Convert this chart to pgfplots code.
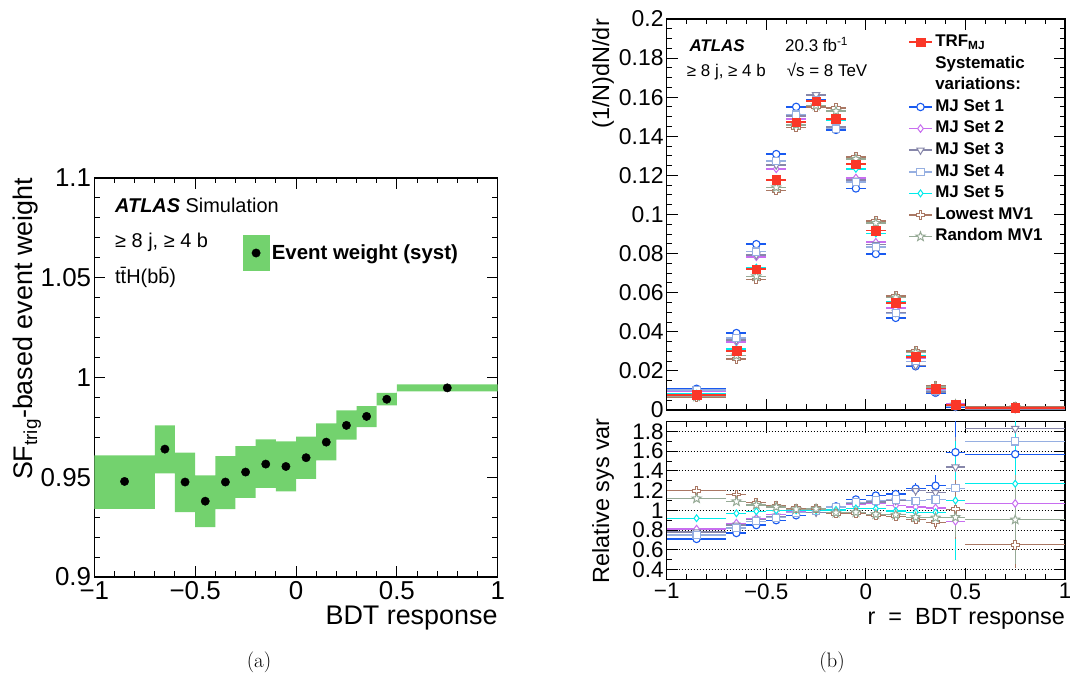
\documentclass[border=0pt]{standalone}
\usepackage{fontspec}
\usepackage{pgfplots}
\pgfplotsset{compat=1.18}
\usepackage{pgfplotstable}
\usepgfplotslibrary{fillbetween}
\newfontfamily\hv{Liberation Sans}
\newcommand\fs[1]{\fontsize{#1}{#1}\selectfont}

\definecolor{sfgreen}{RGB}{115,210,110}
\definecolor{trfred}{RGB}{250,55,40}
\definecolor{cset1}{RGB}{25,90,240}
\definecolor{cset2}{RGB}{200,110,240}
\definecolor{cset3}{RGB}{135,135,170}
\definecolor{cset4}{RGB}{150,175,225}
\definecolor{cset5}{RGB}{0,235,235}
\definecolor{clow}{RGB}{170,120,100}
\definecolor{crand}{RGB}{150,170,150}

\pgfdeclareplotmark{opencross}{%
  \pgfpathmoveto{\pgfpoint{-\pgfplotmarksize}{-0.33\pgfplotmarksize}}%
  \pgfpathlineto{\pgfpoint{-0.33\pgfplotmarksize}{-0.33\pgfplotmarksize}}%
  \pgfpathlineto{\pgfpoint{-0.33\pgfplotmarksize}{-\pgfplotmarksize}}%
  \pgfpathlineto{\pgfpoint{0.33\pgfplotmarksize}{-\pgfplotmarksize}}%
  \pgfpathlineto{\pgfpoint{0.33\pgfplotmarksize}{-0.33\pgfplotmarksize}}%
  \pgfpathlineto{\pgfpoint{\pgfplotmarksize}{-0.33\pgfplotmarksize}}%
  \pgfpathlineto{\pgfpoint{\pgfplotmarksize}{0.33\pgfplotmarksize}}%
  \pgfpathlineto{\pgfpoint{0.33\pgfplotmarksize}{0.33\pgfplotmarksize}}%
  \pgfpathlineto{\pgfpoint{0.33\pgfplotmarksize}{\pgfplotmarksize}}%
  \pgfpathlineto{\pgfpoint{-0.33\pgfplotmarksize}{\pgfplotmarksize}}%
  \pgfpathlineto{\pgfpoint{-0.33\pgfplotmarksize}{0.33\pgfplotmarksize}}%
  \pgfpathlineto{\pgfpoint{-\pgfplotmarksize}{0.33\pgfplotmarksize}}%
  \pgfpathclose
  \pgfusepathqfillstroke}
\pgfdeclareplotmark{openstar}{%
  \pgfpathmoveto{\pgfpointpolar{90}{\pgfplotmarksize}}%
  \pgfpathlineto{\pgfpointpolar{126}{0.42\pgfplotmarksize}}%
  \pgfpathlineto{\pgfpointpolar{162}{\pgfplotmarksize}}%
  \pgfpathlineto{\pgfpointpolar{198}{0.42\pgfplotmarksize}}%
  \pgfpathlineto{\pgfpointpolar{234}{\pgfplotmarksize}}%
  \pgfpathlineto{\pgfpointpolar{270}{0.42\pgfplotmarksize}}%
  \pgfpathlineto{\pgfpointpolar{306}{\pgfplotmarksize}}%
  \pgfpathlineto{\pgfpointpolar{342}{0.42\pgfplotmarksize}}%
  \pgfpathlineto{\pgfpointpolar{18}{\pgfplotmarksize}}%
  \pgfpathlineto{\pgfpointpolar{54}{0.42\pgfplotmarksize}}%
  \pgfpathclose
  \pgfusepathqfillstroke}

% left panel: band edges (const, left edges) and points
\pgfplotstableread{
xe lo hi
-1.0 0.9342 0.9610
-0.7 0.9520 0.9760
-0.6 0.9325 0.9624
-0.5 0.9250 0.9510
-0.4 0.9340 0.9606
-0.3 0.9397 0.9656
-0.2 0.9447 0.9690
-0.1 0.9429 0.9680
0.0 0.9492 0.9704
0.1 0.9584 0.9770
0.2 0.9688 0.9835
0.3 0.9751 0.9856
0.4 0.9860 0.9923
0.5 0.9931 0.9965
1.0 0.9931 0.9965
}\banddata
\pgfplotstableread{
x y
-0.85 0.9479
-0.65 0.9641
-0.55 0.9476
-0.45 0.9380
-0.35 0.9476
-0.25 0.9526
-0.15 0.9566
-0.05 0.9554
0.05 0.9598
0.15 0.9676
0.25 0.9760
0.35 0.9805
0.45 0.9891
0.75 0.9948
}\ptdata

% right top panel
\pgfplotstableread{
x xe trf s1 s2 s3 s4 s5 lm rm
-0.85 0.15 0.0077 0.01085 0.00951 0.00987 0.01027 0.00837 0.00642 0.00688
-0.65 0.05 0.0303 0.03935 0.03483 0.03565 0.03695 0.03124 0.02612 0.02780
-0.55 0.05 0.0721 0.08482 0.07837 0.07923 0.08101 0.07283 0.06676 0.06834
-0.45 0.05 0.1178 0.13089 0.12335 0.12532 0.12735 0.11780 0.11219 0.11382
-0.35 0.05 0.1473 0.15505 0.14879 0.15031 0.15108 0.14730 0.14441 0.14584
-0.25 0.05 0.1580 0.15879 0.15800 0.16122 0.15832 0.15800 0.15490 0.15567
-0.15 0.05 0.1490 0.14327 0.14466 0.14466 0.14396 0.14826 0.15440 0.15282
-0.05 0.05 0.1258 0.11333 0.11868 0.11757 0.11648 0.12333 0.12942 0.12837
0.05 0.05 0.0918 0.07983 0.08579 0.08461 0.08345 0.09027 0.09663 0.09563
0.15 0.05 0.0549 0.04712 0.05229 0.04991 0.04946 0.05529 0.05840 0.05749
0.25 0.05 0.0273 0.02238 0.02638 0.02275 0.02489 0.02786 0.03017 0.02935
0.35 0.05 0.0110 0.00880 0.01073 0.00932 0.00991 0.01122 0.01250 0.01189
0.45 0.05 0.0026 0.00164 0.00292 0.00181 0.00212 0.00236 0.00257 0.00280
0.75 0.25 0.0012 0.00076 0.00112 0.00066 0.00071 0.00094 0.00185 0.00133
}\topdata

% right bottom panel (ratio)
\pgfplotstableread{
x xe r1 r2 r3 r4 r5 r6 r7 e1 e2 e3 e4 e5 e6 e7
-0.85 0.15 0.71 0.81 0.78 0.75 0.92 1.20 1.12 0 0 0 0 0 0 0
-0.65 0.05 0.77 0.87 0.85 0.82 0.97 1.16 1.09 0 0 0 0 0 0 0
-0.55 0.05 0.85 0.92 0.91 0.89 0.99 1.08 1.055 0 0 0 0 0 0 0
-0.45 0.05 0.90 0.955 0.94 0.925 1.00 1.05 1.035 0 0 0 0 0 0 0
-0.35 0.05 0.95 0.99 0.98 0.975 1.00 1.02 1.01 0 0 0 0 0 0 0
-0.25 0.05 0.995 1.00 0.98 0.998 1.00 1.02 1.015 0 0 0 0 0 0 0
-0.15 0.05 1.04 1.03 1.03 1.035 1.005 0.965 0.975 0 0 0 0 0 0 0
-0.05 0.05 1.11 1.06 1.07 1.08 1.02 0.972 0.98 0 0 0 0 0 0 0
0.05 0.05 1.15 1.07 1.085 1.10 1.017 0.95 0.96 0 0 0 0 0 0 0
0.15 0.05 1.165 1.05 1.10 1.11 0.993 0.94 0.955 0.03 0.02 0.02 0.02 0.01 0.02 0.02
0.25 0.05 1.22 1.035 1.20 1.097 0.98 0.905 0.93 0.06 0.03 0.05 0.03 0.02 0.03 0.03
0.35 0.05 1.25 1.025 1.18 1.11 0.98 0.88 0.925 0.11 0.05 0.08 0.06 0.04 0.07 0.05
0.45 0.05 1.59 0.89 1.44 1.225 1.10 1.01 0.93 0.40 0.18 0.30 0.25 0.60 0.30 0.20
0.75 0.25 1.57 1.07 1.83 1.70 1.27 0.65 0.905 0.35 0.25 0.40 0.35 0.75 0.24 0.45
}\ratdata

\pgfplotsset{
  rootaxis/.style={scale only axis, anchor=south west,
    axis line style={line width=1.1bp}, tick style={line width=1bp, black},
    tick align=inside, tick pos=both, major tick length=11bp, minor tick length=5.5bp,
    xmin=-1, xmax=1, xtick={-1,-0.5,0,0.5,1}, minor x tick num=4,
    scaled y ticks=false, scaled x ticks=false},
  st1/.style={color=cset1, mark=*, mark size=3.7bp, mark options={fill=white, line width=1.1bp, solid}},
  st2/.style={color=cset2, mark=diamond*, mark size=3.8bp, mark options={fill=white, line width=1bp, solid}},
  st3/.style={color=cset3, mark=triangle*, mark size=4.2bp, mark options={fill=white, rotate=180, line width=1bp, solid}},
  st4/.style={color=cset4, mark=square*, mark size=3.6bp, mark options={fill=white, line width=1.1bp, solid}},
  st5/.style={color=cset5, mark=diamond*, mark size=3.4bp, mark options={fill=white, line width=1bp, solid}},
  st6/.style={color=clow, mark=opencross, mark size=4.2bp, mark options={fill=white, line width=1bp, solid}},
  st7/.style={color=crand, mark=openstar, mark size=4.8bp, mark options={fill=white, line width=1bp, solid}},
  sttrf/.style={color=trfred, mark=square*, mark size=4.3bp, mark options={fill=trfred, solid}},
  legline/.style={legend image code/.code={%
     \draw[line width=1.6bp] (0bp,0bp) -- (23bp,0bp);
     \draw[only marks] plot coordinates {(11.5bp,0bp)};}},
  xe/.style={only marks, error bars/.cd, x dir=both, x explicit, error mark=none,
     error bar style={line width=#1}},
  xye/.style={only marks, error bars/.cd, x dir=both, x explicit, y dir=both, y explicit,
     error mark=none, error bar style={line width=#1}},
}

\begin{document}
\begin{tikzpicture}[x=1bp,y=1bp]
% ---------------- left panel ----------------
\begin{axis}[rootaxis, at={(94.3bp,101bp)}, width=403.4bp, height=399bp,
  ymin=0.9, ymax=1.1,
  xticklabels={−1,−0.5,0,0.5,1},
  ytick={0.9,0.95,1,1.05,1.1}, yticklabels={0.9,0.95,1,1.05,1.1}, minor y tick num=4,
  tick label style={font=\hv\fs{26}},
  xticklabel style={inner sep=0pt, yshift=-4.5bp},
  yticklabel style={inner sep=0pt, xshift=-3bp},
  legend style={at={(axis cs:-0.2643,1.0624)}, anchor=west, draw=none, fill=none,
    inner sep=0pt, font=\hv\bfseries\fs{20.5},
    nodes={inner xsep=2.5bp, inner ysep=0pt}},
  legend cell align=left]
\addplot[name path=up, draw=none, const plot mark left, forget plot] table[x=xe, y=hi] {\banddata};
\addplot[name path=dn, draw=none, const plot mark left, forget plot] table[x=xe, y=lo] {\banddata};
\addplot[fill=sfgreen, draw=none, forget plot] fill between[of=up and dn];
\addplot[only marks, mark=*, mark size=4.2bp, black, forget plot] table[x=x, y=y] {\ptdata};
\addlegendimage{legend image code/.code={%
   \fill[sfgreen] (0bp,-17.5bp) rectangle (26bp,17.5bp);
   \fill[black] (13bp,0bp) circle (4.2bp);}}
\addlegendentry{Event weight (syst)}
\end{axis}

% ---------------- right top panel ----------------
\begin{axis}[rootaxis, at={(666.7bp,268bp)}, width=398.3bp, height=391bp,
  ymin=0, ymax=0.2, xticklabels={},
  ytick={0,0.02,0.04,0.06,0.08,0.1,0.12,0.14,0.16,0.18,0.2},
  yticklabels={0,0.02,0.04,0.06,0.08,0.1,0.12,0.14,0.16,0.18,0.2},
  minor y tick num=3,
  tick label style={font=\hv\fs{23}},
  yticklabel style={inner sep=0pt, xshift=-3bp},
  legend style={at={(0.6058,0.9688)}, anchor=north west, draw=none, fill=none,
    inner sep=0pt, row sep=0pt, font=\hv\bfseries\fs{17},
    nodes={inner xsep=2.5bp, inner ysep=2.9bp, text height=12.2bp, text depth=3.6bp}},
  legend cell align=left]
\addlegendimage{sttrf, legline}\addlegendentry{TRF\textsubscript{MJ}}
\addlegendimage{empty legend}\addlegendentry{Systematic}
\addlegendimage{empty legend}\addlegendentry{variations:}
\addlegendimage{st1, legline}\addlegendentry{MJ Set 1}
\addlegendimage{st2, legline}\addlegendentry{MJ Set 2}
\addlegendimage{st3, legline}\addlegendentry{MJ Set 3}
\addlegendimage{st4, legline}\addlegendentry{MJ Set 4}
\addlegendimage{st5, legline}\addlegendentry{MJ Set 5}
\addlegendimage{st6, legline}\addlegendentry{Lowest MV1}
\addlegendimage{st7, legline}\addlegendentry{Random MV1}
\addplot[forget plot, st1, xe=1.6bp] table[x=x, y=s1, x error=xe] {\topdata};
\addplot[forget plot, st2, xe=1.6bp] table[x=x, y=s2, x error=xe] {\topdata};
\addplot[forget plot, st3, xe=1.6bp] table[x=x, y=s3, x error=xe] {\topdata};
\addplot[forget plot, st4, xe=1.6bp] table[x=x, y=s4, x error=xe] {\topdata};
\addplot[forget plot, st5, xe=1.6bp] table[x=x, y=s5, x error=xe] {\topdata};
\addplot[forget plot, st6, xe=1.6bp] table[x=x, y=lm, x error=xe] {\topdata};
\addplot[forget plot, st7, xe=1.6bp] table[x=x, y=rm, x error=xe] {\topdata};
\addplot[forget plot, sttrf, xe=1.8bp] table[x=x, y=trf, x error=xe] {\topdata};
\end{axis}

% ---------------- right bottom panel ----------------
\begin{axis}[rootaxis, at={(666.7bp,98.7bp)}, width=398.3bp, height=157.6bp,
  ymin=0.3, ymax=1.9,
  xticklabels={−1,−0.5,0,0.5,1},
  ytick={0.4,0.6,0.8,1,1.2,1.4,1.6,1.8}, yticklabels={0.4,0.6,0.8,1,1.2,1.4,1.6,1.8},
  minor y tick num=1,
  ymajorgrids, grid style={dash pattern=on 1.1bp off 1.9bp, line width=0.9bp, black},
  tick label style={font=\hv\fs{22.5}},
  xticklabel style={inner sep=0pt, yshift=-4bp},
  yticklabel style={inner sep=0pt, xshift=-3bp}]
\addplot[st1, xye=1.3bp] table[x=x, y=r1, x error=xe, y error=e1] {\ratdata};
\addplot[st2, xye=1.3bp] table[x=x, y=r2, x error=xe, y error=e2] {\ratdata};
\addplot[st3, xye=1.3bp] table[x=x, y=r3, x error=xe, y error=e3] {\ratdata};
\addplot[st4, xye=1.3bp] table[x=x, y=r4, x error=xe, y error=e4] {\ratdata};
\addplot[st5, xye=1.3bp] table[x=x, y=r5, x error=xe, y error=e5] {\ratdata};
\addplot[st6, xye=1.3bp] table[x=x, y=r6, x error=xe, y error=e6] {\ratdata};
\addplot[st7, xye=1.3bp] table[x=x, y=r7, x error=xe, y error=e7] {\ratdata};
\end{axis}

% ---------------- text ----------------
\node[rotate=90, anchor=base east, inner sep=0pt] at (32bp,500bp) {\hv\fs{27}SF\textsubscript{trig}-based event weight};
\node[anchor=base east, inner sep=0pt] at (497.7bp,53bp) {\hv\fs{27}BDT response};
\node[anchor=base west, inner sep=0pt] at (115bp,465.3bp) {\hv\fs{20}{\bfseries\itshape ATLAS} Simulation};
\node[anchor=base west, inner sep=0pt] at (115bp,430.5bp) {\hv\fs{20}≥ 8 j, ≥ 4 b};
\node[anchor=base west, inner sep=0pt] at (115bp,394.7bp) {\hv\fs{20}t\=tH(b\=b)};

\node[rotate=90, anchor=base east, inner sep=0pt] at (609bp,659bp) {\hv\fs{23.5}(1/N)dN/dr};
\node[rotate=90, anchor=base east, inner sep=0pt] at (609bp,260bp) {\hv\fs{23.5}Relative sys var};
\node[anchor=base east, inner sep=0pt] at (1065bp,53bp) {\hv\fs{23.5}r\ \ =\ \ BDT response};
\node[anchor=base west, inner sep=0pt] at (689.3bp,626.3bp) {\hv\fs{17}\bfseries\itshape ATLAS};
\node[anchor=base west, inner sep=0pt] at (785bp,626.3bp) {\hv\fs{17}20.3 fb\textsuperscript{-1}};
\node[anchor=base west, inner sep=0pt] at (686.7bp,601.3bp) {\hv\fs{17}≥ 8 j, ≥ 4 b};
\node[anchor=base west, inner sep=0pt] at (786.7bp,601.3bp) {\hv\fs{17}√s = 8 TeV};

\node at (259bp,16bp) {\fs{21}(a)};
\node at (832bp,16bp) {\fs{21}(b)};

\pgfresetboundingbox
\path[use as bounding box] (0bp,0bp) rectangle (1070bp,678bp);
\end{tikzpicture}
\end{document}
